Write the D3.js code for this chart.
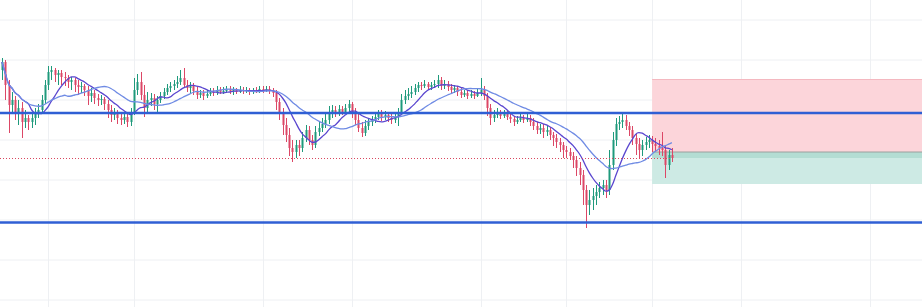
<!DOCTYPE html>
<html><head><meta charset="utf-8">
<script src="https://cdn.jsdelivr.net/npm/d3@7"></script>
<style>html,body{margin:0;padding:0;background:#fff;overflow:hidden}</style>
</head><body>
<svg id="c" width="922" height="307"></svg>
<script>
// ---- data ----
const opens = [2015, 2019, 2007.5, 1997.5, 2000, 1994, 1996, 1989, 1991, 1989,
 1991, 1993.5, 1995, 2000, 2007.5, 2014, 2015, 2012.5, 2013.5, 2011.5,
 2011, 2009, 2010, 2007.5, 2006.5, 2007, 2005, 2002, 2003.5, 2001,
 2000, 2000.5, 1998, 1995, 1992.5, 1993.5, 1991, 1990, 1991.5, 1989,
 1994, 2005, 2009, 2002.5, 1996, 2000, 2001, 1998, 2000, 2002,
 2004, 2006, 2007, 2008, 2009, 2011, 2007.5, 2006, 2007, 2004.5,
 2002.5, 2003.5, 2002, 2003, 2004, 2003.5, 2005, 2004, 2004.5, 2005.5,
 2004.5, 2005, 2004, 2005, 2004.5, 2005, 2004, 2005, 2004.5, 2005.5,
 2005, 2005.5, 2004.5, 2003.5, 1999, 1994, 1987.5, 1982.5, 1976, 1974,
 1977.5, 1976, 1981, 1985, 1980, 1977.5, 1984, 1986, 1988, 1990,
 1994, 1995, 1993.5, 1995.5, 1994, 1996, 1998, 1993.5, 1990, 1986,
 1983.5, 1987, 1989, 1990, 1991.5, 1993, 1991.5, 1992.5, 1991, 1990,
 1991.5, 1994, 2000, 2002, 2003, 2004, 2006, 2007.5, 2007, 2008,
 2006.5, 2007.5, 2008, 2010, 2007, 2008, 2006.5, 2005, 2006, 2004,
 2002.5, 2003.5, 2002, 2003, 2002, 2003.5, 2005, 2002, 1996, 1991,
 1992.5, 1993.5, 1992, 1993, 1991.5, 1990.5, 1989, 1990, 1991, 1990,
 1991, 1989, 1987, 1985, 1986, 1984, 1985, 1982.5, 1981, 1979,
 1977.5, 1975, 1974, 1972, 1970, 1966, 1962.5, 1955, 1947.5, 1950,
 1952, 1954, 1956, 1957.5, 1955, 1967.5, 1980, 1988, 1989, 1990,
 1987, 1985, 1981, 1978, 1975, 1977.5, 1979, 1980, 1978, 1977,
 1976, 1975, 1967.5, 1972.5];
const highs = [2021, 2020, 2010, 2004, 2002, 2000, 1999, 1995, 1992.5, 1994,
 1996, 1998, 2002.5, 2010, 2017, 2017, 2016, 2015, 2015, 2014,
 2012.5, 2011.5, 2011, 2010, 2009, 2008, 2007, 2006, 2005, 2003,
 2002.5, 2001.5, 2000, 1997.5, 1996, 1995, 1993, 1994, 1993, 1996,
 2011, 2013, 2014, 2007.5, 2004, 2003.5, 2003, 2002, 2004, 2006,
 2008, 2009, 2010, 2012, 2015, 2016, 2010, 2009, 2008.5, 2006.5,
 2005, 2005, 2005, 2006, 2006, 2007, 2006.5, 2006.5, 2007, 2007,
 2006.5, 2006, 2007, 2006.5, 2006.5, 2006, 2006, 2006.5, 2007, 2007,
 2007, 2007, 2006, 2005, 2001, 1996, 1991, 1986, 1980, 1980,
 1980, 1984, 1987.5, 1987, 1982.5, 1987, 1989, 1991, 1993, 1997,
 1997.5, 1997, 1997.5, 1997, 1998, 2000, 1999, 1996, 1993, 1989,
 1990, 1991, 1992, 1994, 1995, 1995, 1994.5, 1994, 1993.5, 1994,
 1996, 2003, 2005, 2006, 2007, 2008, 2009, 2009, 2010, 2009,
 2009, 2010, 2012.5, 2011.5, 2010, 2009.5, 2008, 2007.5, 2007, 2006,
 2005, 2005, 2005, 2004.5, 2005.5, 2011, 2007, 2003.5, 1998, 1995,
 1996, 1995, 1995, 1994.5, 1993.5, 1992, 1992, 1993, 1992.5, 1993,
 1992.5, 1991, 1989, 1988, 1988, 1987, 1986.5, 1984, 1983, 1981,
 1979, 1977, 1976, 1974, 1972, 1969, 1965, 1957.5, 1955, 1956,
 1957.5, 1959, 1960, 1960, 1975, 1984, 1991, 1992, 1993, 1992.5,
 1989, 1987, 1983, 1981, 1980, 1981.5, 1982.5, 1982, 1981, 1980,
 1984, 1977.5, 1975, 1976];
const lows = [2010, 2000, 1983.5, 1994, 1990, 1987.5, 1981, 1986, 1985, 1986,
 1987.5, 1991, 1994, 1998, 2005, 2010, 2009, 2007.5, 2007.5, 2007,
 2006, 2005, 2004, 2002.5, 2003.5, 2002, 1997.5, 1999, 1998, 1997,
 1997.5, 1995, 1991, 1989, 1990, 1988, 1987.5, 1988, 1986.5, 1987,
 1992.5, 2002.5, 2000, 1991.5, 1994, 1997, 1995, 1994, 1998.5, 2000.5,
 2002.5, 2004, 2005, 2006, 2007.5, 2006, 2004, 2003.5, 2002.5, 2000.5,
 2001, 2000, 2001, 2002, 2002, 2002.5, 2003, 2003, 2003.5, 2003,
 2002.5, 2003, 2003.5, 2003, 2003.5, 2002.5, 2003, 2003.5, 2003.5, 2003.5,
 2004, 2003, 2001.5, 1995, 1990, 1982.5, 1979, 1972, 1969, 1971,
 1972, 1974, 1979, 1977.5, 1975, 1976, 1982, 1984, 1986, 1988,
 1991, 1991.5, 1992, 1992.5, 1993, 1993, 1991, 1987.5, 1984, 1981.5,
 1982, 1985, 1987, 1988.5, 1990, 1989.5, 1990, 1989, 1988, 1988.5,
 1987, 1993, 1998, 2000, 2001, 2002.5, 2004, 2005, 2006, 2005,
 2005, 2006, 2006, 2005, 2005.5, 2004.5, 2003.5, 2003.5, 2002, 2001,
 2001.5, 2000.5, 2001, 2000.5, 2001.5, 2002, 2000, 1992, 1987.5, 1989,
 1991, 1990.5, 1991, 1990, 1988.5, 1987, 1988, 1989, 1988.5, 1989,
 1987, 1985, 1983, 1983, 1981, 1982, 1980, 1977, 1976, 1974,
 1971, 1971, 1970, 1966, 1962, 1957.5, 1947.5, 1936, 1942.5, 1945,
 1947.5, 1951, 1952.5, 1951, 1952.5, 1965, 1977, 1985, 1986, 1985,
 1982, 1977.5, 1972.5, 1971, 1972, 1975, 1976, 1974, 1974, 1972.5,
 1972, 1961, 1965, 1969];
const closes = [2019, 2007.5, 1997.5, 2000, 1994, 1996, 1989, 1991, 1989, 1991,
 1993.5, 1995, 2000, 2007.5, 2014, 2015, 2012.5, 2013.5, 2011.5, 2011,
 2009, 2010, 2007.5, 2006.5, 2007, 2005, 2002, 2003.5, 2001, 2000,
 2000.5, 1998, 1995, 1992.5, 1993.5, 1991, 1990, 1991.5, 1989, 1994,
 2005, 2009, 2002.5, 1996, 2000, 2001, 1998, 2000, 2002, 2004,
 2006, 2007, 2008, 2009, 2011, 2007.5, 2006, 2007, 2004.5, 2002.5,
 2003.5, 2002, 2003, 2004, 2003.5, 2005, 2004, 2004.5, 2005.5, 2004.5,
 2005, 2004, 2005, 2004.5, 2005, 2004, 2005, 2004.5, 2005.5, 2005,
 2005.5, 2004.5, 2003.5, 1999, 1994, 1987.5, 1982.5, 1976, 1974, 1977.5,
 1976, 1981, 1985, 1980, 1977.5, 1984, 1986, 1988, 1990, 1994,
 1995, 1993.5, 1995.5, 1994, 1996, 1998, 1993.5, 1990, 1986, 1983.5,
 1987, 1989, 1990, 1991.5, 1993, 1991.5, 1992.5, 1991, 1990, 1991.5,
 1994, 2000, 2002, 2003, 2004, 2006, 2007.5, 2007, 2008, 2006.5,
 2007.5, 2008, 2010, 2007, 2008, 2006.5, 2005, 2006, 2004, 2002.5,
 2003.5, 2002, 2003, 2002, 2003.5, 2005, 2002, 1996, 1991, 1992.5,
 1993.5, 1992, 1993, 1991.5, 1990.5, 1989, 1990, 1991, 1990, 1991,
 1989, 1987, 1985, 1986, 1984, 1985, 1982.5, 1981, 1979, 1977.5,
 1975, 1974, 1972, 1970, 1966, 1962.5, 1955, 1947.5, 1950, 1952,
 1954, 1956, 1957.5, 1955, 1967.5, 1980, 1988, 1989, 1990, 1987,
 1985, 1981, 1978, 1975, 1977.5, 1979, 1980, 1978, 1977, 1976,
 1975, 1967.5, 1972.5, 1971];

const maPeriods = [9, 20];
const levels = [1993.5, 1938.75];          // horizontal blue lines
const lastPrice = 1971;                    // dotted price line
const position = {start: 197, end: 290, stop: 2010.5, entry: 1974, target: 1958};
const priceGrid = [1900, 1920, 1940, 1960, 1980, 2000, 2020, 2040];
const timeGrid = [14, 40, 79, 106, 145, 171, 197, 224, 263];

// ---- scales ----
const W = 922, H = 307;
const x = d3.scaleLinear().domain([0, 279]).range([2, 2 + 279 * 3.3]);
const y = d3.scaleLinear().domain([1900, 2040]).range([300, 20]);
const svg = d3.select('#c');

// grid
svg.append('g').selectAll('line').data(priceGrid).join('line')
  .attr('x1', 0).attr('x2', W).attr('y1', d => y(d)).attr('y2', d => y(d))
  .attr('stroke', '#eef0f3').attr('stroke-width', 1);
svg.append('g').selectAll('line').data(timeGrid).join('line')
  .attr('y1', 0).attr('y2', H).attr('x1', d => Math.round(x(d)) + 0.5).attr('x2', d => Math.round(x(d)) + 0.5)
  .attr('stroke', '#eef0f3').attr('stroke-width', 1);

// position box
const bx0 = x(position.start), bx1 = x(position.end);
svg.append('rect').attr('x', bx0).attr('width', bx1 - bx0)
  .attr('y', y(position.stop)).attr('height', y(position.entry) - y(position.stop))
  .attr('fill', '#fcd5da');
svg.append('line').attr('x1', bx0).attr('x2', bx1).attr('y1', y(position.stop) + 0.5).attr('y2', y(position.stop) + 0.5)
  .attr('stroke', '#f4b8c0').attr('stroke-width', 1);
svg.append('rect').attr('x', bx0).attr('width', bx1 - bx0)
  .attr('y', y(position.entry)).attr('height', y(position.target) - y(position.entry))
  .attr('fill', '#cdeae4');
svg.append('rect').attr('x', bx0).attr('width', bx1 - bx0)
  .attr('y', y(position.entry)).attr('height', y(lastPrice) - y(position.entry))
  .attr('fill', '#b3ddd3');
svg.append('line').attr('x1', bx0).attr('x2', bx1).attr('y1', y(position.entry)).attr('y2', y(position.entry))
  .attr('stroke', '#9aa09e').attr('stroke-width', 1);

// candles
const idx = d3.range(closes.length);
const up = i => closes[i] >= opens[i];
const red = '#dc4766', green = '#1f9a7c';
const g = svg.append('g');
g.selectAll('line').data(idx).join('line')
  .attr('x1', i => Math.round(x(i)) + 0.5).attr('x2', i => Math.round(x(i)) + 0.5)
  .attr('y1', i => y(highs[i])).attr('y2', i => y(lows[i]))
  .attr('stroke', i => up(i) ? green : red).attr('stroke-width', 1);
g.selectAll('rect').data(idx).join('rect')
  .attr('x', i => Math.round(x(i)) - 0.5).attr('width', 2)
  .attr('y', i => y(Math.max(opens[i], closes[i])))
  .attr('height', i => Math.max(1, Math.abs(y(opens[i]) - y(closes[i]))))
  .attr('fill', i => up(i) ? green : red);

// moving averages
const ma = p => closes.map((c, i) => d3.mean(closes.slice(Math.max(0, i - p + 1), i + 1)));
const maColors = ['#5a46cf', '#6f8be4'];
maPeriods.forEach((p, k) => {
  const vals = ma(p);
  svg.append('path').datum(idx)
    .attr('d', d3.line().x(i => x(i)).y(i => y(vals[i])).curve(d3.curveMonotoneX))
    .attr('fill', 'none').attr('stroke', maColors[k]).attr('stroke-width', 1.3);
});

// horizontal levels
svg.append('g').selectAll('line').data(levels).join('line')
  .attr('x1', 0).attr('x2', W).attr('y1', d => y(d)).attr('y2', d => y(d))
  .attr('stroke', '#2f5fd4').attr('stroke-width', 2.3);

// last price dotted line
svg.append('line').attr('x1', 0).attr('x2', x(closes.length - 1) + 3)
  .attr('y1', Math.round(y(lastPrice)) + 0.5).attr('y2', Math.round(y(lastPrice)) + 0.5)
  .attr('stroke', '#d9475f').attr('stroke-width', 1).attr('stroke-dasharray', '1,2');
</script>
</body></html>
